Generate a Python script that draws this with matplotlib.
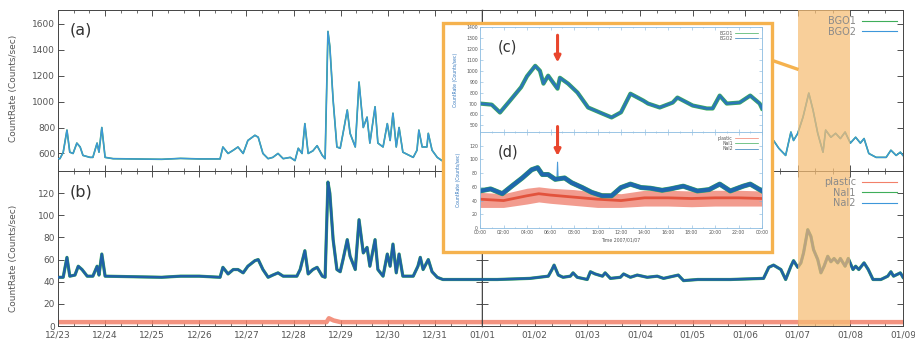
import matplotlib
matplotlib.use("Agg")
import matplotlib.pyplot as plt
from matplotlib.patches import Rectangle
from matplotlib.lines import Line2D
from matplotlib.ticker import MultipleLocator

# ---- data: time in days since 12/23 00:00 ----
date_labels = ['12/23', '12/24', '12/25', '12/26', '12/27', '12/28', '12/29', '12/30', '12/31',
               '01/01', '01/02', '01/03', '01/04', '01/05', '01/06', '01/07', '01/08', '01/09']

# (a) BGO count rate, 12/23 - 01/01
bgo_days_l = [0.0, 0.04, 0.11, 0.19, 0.25, 0.32, 0.40, 0.47, 0.53, 0.68, 0.74, 0.83, 0.87, 0.93, 1.00,
              1.17, 2.2, 2.6, 3.0, 3.44, 3.50, 3.61, 3.72, 3.82, 3.93, 4.03, 4.18, 4.25, 4.35, 4.46,
              4.56, 4.67, 4.78, 4.93, 5.03, 5.10, 5.18, 5.24, 5.31, 5.41, 5.50, 5.61, 5.67, 5.73, 5.77,
              5.84, 5.92, 5.99, 6.05, 6.14, 6.20, 6.31, 6.39, 6.48, 6.56, 6.62, 6.73, 6.79, 6.90, 6.99,
              7.05, 7.11, 7.18, 7.24, 7.32, 7.54, 7.62, 7.66, 7.73, 7.83, 7.86, 7.94, 8.05, 8.15, 9.0]
bgo_l = [560, 560, 608, 780, 610, 600, 680, 650, 585, 570, 570, 680, 610, 800, 570,
         560, 555, 562, 558, 558, 650, 600, 625, 650, 600, 700, 740, 725, 600, 560,
         570, 600, 560, 570, 545, 640, 600, 830, 600, 620, 660, 585, 560, 1540, 1425,
         1010, 650, 640, 755, 935, 755, 650, 1150, 800, 880, 680, 960, 680, 650, 830,
         700, 910, 650, 800, 610, 570, 625, 780, 650, 650, 755, 625, 570, 545, 540]

# (a) BGO count rate, 01/01 - 01/09 (visible part)
bgo_days_r = [14.35, 14.45, 14.54, 14.64, 14.77, 14.87, 14.92, 15.0, 15.10, 15.21, 15.29, 15.38,
              15.48, 15.53, 15.63, 15.72, 15.81, 15.90, 16.0, 16.10, 16.19, 16.26, 16.35, 16.49,
              16.68, 16.77, 16.87, 16.95, 17.0]
bgo_r = [560, 650, 700, 640, 585, 765, 700, 755, 880, 1065, 935, 755,
         610, 780, 725, 755, 715, 765, 680, 725, 680, 715, 600, 570,
         570, 625, 585, 610, 585]

# (b) NaI count rate, 12/23 - 01/01
nai_days_l = [0.0, 0.04, 0.11, 0.19, 0.25, 0.36, 0.43, 0.51, 0.62, 0.74, 0.83, 0.87, 0.93, 1.00,
              2.2, 2.6, 3.0, 3.44, 3.50, 3.61, 3.72, 3.82, 3.93, 4.03, 4.18, 4.25, 4.35, 4.46,
              4.56, 4.67, 4.78, 4.97, 5.07, 5.14, 5.24, 5.31, 5.41, 5.50, 5.61, 5.67, 5.73, 5.77,
              5.84, 5.92, 5.99, 6.05, 6.14, 6.20, 6.31, 6.39, 6.48, 6.56, 6.62, 6.73, 6.79, 6.90,
              6.99, 7.05, 7.11, 7.18, 7.24, 7.32, 7.54, 7.64, 7.69, 7.75, 7.86, 7.94, 8.05, 8.17,
              8.47, 9.0]
nai_l = [44, 44, 44, 62, 45, 46, 54, 51, 45, 45, 54, 46, 65, 45,
         44, 45, 45, 44, 53, 47, 51, 51, 48, 54, 59, 60, 51, 44,
         46, 48, 45, 45, 45, 51, 68, 47, 51, 53, 45, 44, 130, 120,
         78, 51, 49, 60, 78, 63, 51, 96, 66, 71, 54, 78, 51, 45,
         65, 54, 74, 48, 65, 45, 45, 54, 62, 51, 60, 49, 44, 42,
         42, 42]

# (b) NaI count rate, 01/01 - 01/09
nai_days_r = [9.0, 9.29, 9.91, 10.26, 10.33, 10.37, 10.45, 10.54, 10.68, 10.73, 10.81, 11.0, 11.06,
              11.15, 11.29, 11.34, 11.44, 11.63, 11.69, 11.82, 11.95, 12.14, 12.33, 12.45, 12.73,
              12.83, 13.10, 13.72, 14.35, 14.45, 14.54, 14.68, 14.77, 14.87, 14.92, 15.0, 15.06,
              15.11, 15.19, 15.25, 15.30, 15.38, 15.44, 15.50, 15.57, 15.63, 15.69, 15.76, 15.81,
              15.90, 15.96, 16.05, 16.10, 16.16, 16.26, 16.34, 16.43, 16.58, 16.71, 16.77, 16.82,
              16.95, 17.0]
nai_r = [42, 42, 43, 45, 51, 55, 46, 44, 45, 48, 44, 42, 49,
         47, 45, 48, 43, 44, 47, 44, 46, 44, 45, 43, 46,
         41, 42, 42, 43, 53, 55, 51, 42, 54, 59, 53, 57,
         66, 87, 81, 69, 60, 48, 54, 63, 58, 61, 57, 61,
         54, 61, 51, 54, 51, 57, 51, 42, 42, 45, 49, 45,
         48, 44]

# (b) plastic scintillator
plastic_days = [0.0, 5.70, 5.75, 5.85, 6.0, 17.0]
plastic = [3.5, 3.5, 7, 5, 3.5, 3.5]

# inset (c): BGO on 2007/01/07, hours
c_hours = [0, 1.0, 1.7, 2.5, 3.5, 4.0, 4.7, 5.1, 5.4, 5.8, 6.3, 6.6, 6.8, 7.5, 8.3, 9.2, 10.4,
           11.2, 12.0, 12.8, 13.9, 14.3, 15.3, 16.4, 16.8, 18.1, 19.3, 19.8, 20.4, 21.0, 22.1,
           23.0, 23.8, 24.0]
c_bgo = [700, 690, 618, 720, 850, 950, 1045, 1000, 882, 955, 880, 836, 936, 882, 800, 664, 609,
         573, 620, 790, 727, 700, 664, 709, 755, 682, 655, 655, 773, 700, 709,
         773, 700, 655]

# inset (d): NaI and plastic on 2007/01/07
d_hours = [0, 0.9, 1.9, 2.7, 3.6, 4.4, 4.9, 5.3, 5.8, 6.4, 7.2, 7.8, 8.7, 9.5,
           10.4, 11.2, 12.0, 12.8, 13.7, 14.5, 15.5, 16.2, 17.3, 18.5, 19.5, 20.4, 21.3, 22.4,
           23.0, 24.0]
d_nai = [54, 57, 50, 61, 73, 85, 88, 78, 78, 71, 73, 66, 59, 52,
         47, 47, 59, 64, 59, 58, 55, 57, 61, 54, 56, 64, 54, 61,
         64, 54]
spike_hours = [6.55, 6.6, 6.65]
spike_nai = [72, 96, 72]
p_hours = [0, 2, 4, 5, 6, 8, 10, 12, 14, 16, 18, 20, 22, 24]
p_mid = [42, 40, 47, 50, 48, 45, 42, 40, 44, 44, 43, 44, 44, 43]
p_lo = [30, 30, 35, 38, 36, 33, 30, 30, 32, 32, 31, 32, 32, 32]
p_hi = [52, 50, 58, 60, 58, 56, 52, 50, 55, 55, 54, 55, 55, 54]

GREEN = '#3fae5a'
BLUE_A = '#3d97da'
BLUE_B = '#1f60a6'
RED = '#f2806a'
SHADE = '#f6bd74'
FRAME = '#f5b24e'

W, H = 915, 343
fig = plt.figure(figsize=(W / 100, H / 100), dpi=100)


def fx(px):
    return px / W


def fy(py):
    return 1 - py / H


L, M, R = fx(58), fx(482), fx(903)
ax_a1 = fig.add_axes([L, fy(171), M - L, fy(10) - fy(171)])
ax_a2 = fig.add_axes([M, fy(171), R - M, fy(10) - fy(171)])
ax_b1 = fig.add_axes([L, fy(326), M - L, fy(171) - fy(326)])
ax_b2 = fig.add_axes([M, fy(326), R - M, fy(171) - fy(326)])


def style_main(ax, xlim, ylim, yticks, left_labels, bottom_labels):
    ax.set_xlim(xlim)
    ax.set_ylim(ylim)
    days = list(range(int(xlim[0]), int(xlim[1]) + 1))
    ax.set_xticks(days)
    if bottom_labels:
        labs = [date_labels[d] for d in days]
        if xlim[0] == 0:
            labs[-1] = ''
        ax.set_xticklabels(labs)
    ax.xaxis.set_minor_locator(MultipleLocator(1 / 3))
    ax.set_yticks(yticks)
    ax.tick_params(which='both', direction='in', top=True, right=True, left=True,
                   labelsize=6.5, labelcolor='#555555', color='#333333', pad=2,
                   labelleft=left_labels, labelbottom=bottom_labels)
    ax.tick_params(axis='x', pad=3.5)
    ax.tick_params(which='major', length=4, width=0.6)
    ax.tick_params(which='minor', length=2, width=0.5)
    for sp in ax.spines.values():
        sp.set_linewidth(0.7)
        sp.set_color('#444444')


style_main(ax_a1, (0, 9), (465, 1705), range(600, 1601, 200), True, False)
style_main(ax_a2, (9, 17), (465, 1705), range(600, 1601, 200), False, False)
style_main(ax_b1, (0, 9), (0, 140), range(0, 121, 20), True, True)
style_main(ax_b2, (9, 17), (0, 140), range(0, 121, 20), False, True)
for ax in (ax_a1, ax_b1):
    ax.spines['right'].set_color('black')
    ax.spines['right'].set_linewidth(1.0)

# (a) BGO1 and BGO2 overlap completely at this scale
ax_a1.plot(bgo_days_l, bgo_l, color=GREEN, lw=1.2, zorder=2)
ax_a1.plot(bgo_days_l, bgo_l, color=BLUE_A, lw=1.0, zorder=3)
ax_a2.plot(bgo_days_r, bgo_r, color=GREEN, lw=1.2, zorder=2)
ax_a2.plot(bgo_days_r, bgo_r, color=BLUE_A, lw=1.0, zorder=3)

for ax, d, v in ((ax_b1, nai_days_l, nai_l), (ax_b2, nai_days_r, nai_r)):
    ax.plot(plastic_days, plastic, color=RED, lw=3.2, alpha=0.85, zorder=2)
    ax.plot(d, v, color=GREEN, lw=2.3, zorder=2)
    ax.plot(d, v, color=BLUE_B, lw=1.8, zorder=3)

for ax in (ax_a2, ax_b2):
    ax.axvspan(15, 16, color=SHADE, alpha=0.72, lw=0, zorder=4)

ax_a1.text(0.028, 0.876, '(a)', transform=ax_a1.transAxes, fontsize=11.5, va='center', color='#333333')
ax_b1.text(0.028, 0.865, '(b)', transform=ax_b1.transAxes, fontsize=11.5, va='center', color='#333333')

fig.text(fx(14), fy(88), 'CountRate (Counts/sec)', rotation=90, ha='center', va='center',
         fontsize=6.5, color='#555555')
fig.text(fx(14), fy(258), 'CountRate (Counts/sec)', rotation=90, ha='center', va='center',
         fontsize=6.5, color='#555555')

leg_kw = dict(loc='upper right', frameon=False, markerfirst=False, fontsize=7, handlelength=3.6,
              labelspacing=0.05, borderaxespad=0.25, handletextpad=0.6, labelcolor='#8a8a8a')
ax_a2.legend([Line2D([], [], color=GREEN, lw=0.8), Line2D([], [], color=BLUE_A, lw=0.8)],
             ['BGO1', 'BGO2'], **leg_kw)
ax_b2.legend([Line2D([], [], color=RED, lw=0.8), Line2D([], [], color=GREEN, lw=0.8),
              Line2D([], [], color=BLUE_A, lw=0.8)], ['plastic', 'NaI1', 'NaI2'], **leg_kw)

# ---- inset ----
fig.patches.append(Rectangle((fx(443), fy(252)), fx(772) - fx(443), fy(23) - fy(252),
                             transform=fig.transFigure, facecolor='white', edgecolor=FRAME,
                             lw=2.4, zorder=1))
fig.lines.append(Line2D([fx(771), fx(797)], [fy(60), fy(69)], transform=fig.transFigure,
                        color=FRAME, lw=2.4, zorder=1))

ax_c = fig.add_axes([fx(480), fy(132), fx(762) - fx(480), fy(27) - fy(132)])
ax_d = fig.add_axes([fx(480), fy(228), fx(762) - fx(480), fy(132) - fy(228)])
for ax in (ax_c, ax_d):
    ax.set_zorder(3)
    ax.set_xlim(0, 24)
    ax.set_xticks(range(0, 25, 2))
    ax.xaxis.set_minor_locator(MultipleLocator(1))
    ax.tick_params(which='both', direction='in', top=True, right=True, labelsize=3.3,
                   labelcolor='#555555', color='#7fb2da', pad=1.5, width=0.4)
    ax.tick_params(which='major', length=2)
    ax.tick_params(which='minor', length=1)
    for sp in ax.spines.values():
        sp.set_linewidth(0.6)
        sp.set_color('#8bbbe0')
    ax.set_ylabel('CountRate (Counts/sec)', fontsize=3.3, color='#3a7bbf', labelpad=6)

ax_c.set_ylim(440, 1400)
ax_c.set_yticks(range(500, 1401, 100))
ax_c.tick_params(labelbottom=False)
ax_c.plot(c_hours, c_bgo, color=GREEN, lw=3.0)
ax_c.plot(c_hours, c_bgo, color='#2a78b5', lw=2.0)
ax_c.text(0.064, 0.81, '(c)', transform=ax_c.transAxes, fontsize=10.5, va='center', color='#333333')
ax_c.annotate('', xy=(6.6, 1050), xytext=(6.6, 1350),
              arrowprops=dict(arrowstyle='-|>', color='#e9462d', lw=2.2, mutation_scale=9))

ax_d.set_ylim(0, 140)
ax_d.set_yticks(range(0, 121, 20))
ax_d.set_xticklabels([f'{h % 24:02d}:00' for h in range(0, 25, 2)])
ax_d.set_xlabel('Time 2007/01/07', fontsize=3.3, color='#555555', labelpad=1.5)
ax_d.fill_between(p_hours, p_lo, p_hi, color='#ea5a44', alpha=0.6, lw=0)
ax_d.plot(p_hours, p_mid, color='#e0472f', lw=2.0, alpha=0.85)
ax_d.plot(spike_hours, spike_nai, color='#4a9ad8', lw=0.8)
ax_d.plot(d_hours, d_nai, color=GREEN, lw=3.6)
ax_d.plot(d_hours, d_nai, color='#1f68ad', lw=3.0)
ax_d.text(0.064, 0.79, '(d)', transform=ax_d.transAxes, fontsize=10.5, va='center', color='#333333')
ax_d.annotate('', xy=(6.6, 101), xytext=(6.6, 152), annotation_clip=False,
              arrowprops=dict(arrowstyle='-|>', color='#e9462d', lw=2.2, mutation_scale=9))

ileg = dict(loc='upper right', frameon=False, markerfirst=False, fontsize=3.3, handlelength=5,
            labelspacing=0.05, borderaxespad=0.4, handletextpad=0.6, labelcolor='#555555')
ax_c.legend([Line2D([], [], color=GREEN, lw=0.5), Line2D([], [], color='#2a78b5', lw=0.5)],
            ['BGO1', 'BGO2'], **ileg)
ax_d.legend([Line2D([], [], color=RED, lw=0.5), Line2D([], [], color=GREEN, lw=0.5),
             Line2D([], [], color='#2a78b5', lw=0.5)], ['plastic', 'NaI1', 'NaI2'], **ileg)

fig.savefig('out.png', dpi=100)
